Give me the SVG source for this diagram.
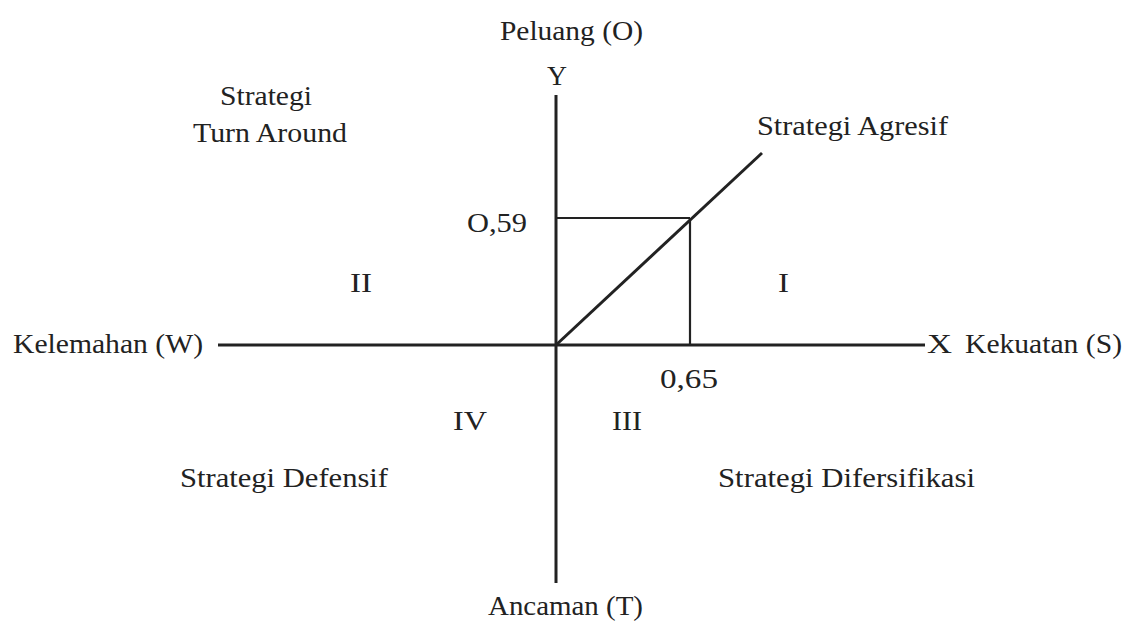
<svg xmlns="http://www.w3.org/2000/svg" width="1132" height="621" viewBox="0 0 1132 621">
<style>
text{font-family:"Liberation Serif","Times New Roman",serif;font-size:27px;fill:#222}
.ax{stroke:#222;stroke-width:3;fill:none}
.th{stroke:#222;stroke-width:2.2;fill:none}
</style>
<rect width="1132" height="621" fill="#fff"/>
<g id="connectors">
<line class="ax" x1="556" y1="95" x2="556" y2="583"/>
<line class="ax" x1="218" y1="345" x2="925" y2="345"/>
<line class="ax" x1="556" y1="345" x2="762" y2="153"/>
<line class="th" x1="556" y1="218" x2="690" y2="218"/>
<line class="th" x1="690" y1="218" x2="690" y2="345"/>
</g>
<g id="label-peluang"><text x="500" y="40" textLength="143" lengthAdjust="spacingAndGlyphs">Peluang (O)</text></g>
<g id="label-y"><text x="547" y="85" textLength="20" lengthAdjust="spacingAndGlyphs">Y</text></g>
<g id="label-turnaround"><text x="220" y="105" textLength="92" lengthAdjust="spacingAndGlyphs">Strategi</text><text x="193" y="142" textLength="154" lengthAdjust="spacingAndGlyphs">Turn Around</text></g>
<g id="label-agresif"><text x="757" y="135" textLength="191" lengthAdjust="spacingAndGlyphs">Strategi Agresif</text></g>
<g id="label-059"><text x="467" y="232" textLength="60" lengthAdjust="spacingAndGlyphs">O,59</text></g>
<g id="label-ii"><text x="350" y="292" textLength="22" lengthAdjust="spacingAndGlyphs">II</text></g>
<g id="label-i"><text x="778" y="292" textLength="11" lengthAdjust="spacingAndGlyphs">I</text></g>
<g id="label-kelemahan"><text x="13" y="353" textLength="190" lengthAdjust="spacingAndGlyphs">Kelemahan (W)</text></g>
<g id="label-x"><text x="927" y="353" textLength="25" lengthAdjust="spacingAndGlyphs">X</text></g>
<g id="label-kekuatan"><text x="965" y="353" textLength="157" lengthAdjust="spacingAndGlyphs">Kekuatan (S)</text></g>
<g id="label-065"><text x="660" y="388" textLength="58" lengthAdjust="spacingAndGlyphs">0,65</text></g>
<g id="label-iv"><text x="453" y="430" textLength="34" lengthAdjust="spacingAndGlyphs">IV</text></g>
<g id="label-iii"><text x="612" y="430" textLength="30" lengthAdjust="spacingAndGlyphs">III</text></g>
<g id="label-defensif"><text x="180" y="487" textLength="208" lengthAdjust="spacingAndGlyphs">Strategi Defensif</text></g>
<g id="label-difersifikasi"><text x="718" y="487" textLength="257" lengthAdjust="spacingAndGlyphs">Strategi Difersifikasi</text></g>
<g id="label-ancaman"><text x="488" y="615" textLength="155" lengthAdjust="spacingAndGlyphs">Ancaman (T)</text></g>
</svg>
